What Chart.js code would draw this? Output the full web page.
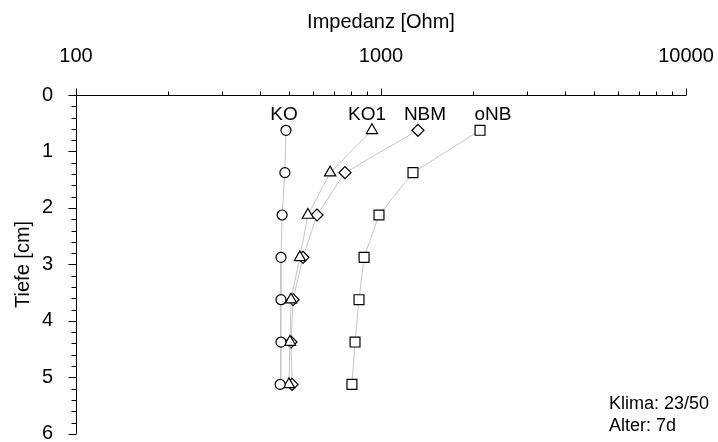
<!DOCTYPE html>
<html>
<head>
<meta charset="utf-8">
<script src="https://cdn.jsdelivr.net/npm/chart.js@4"></script>
<style>
  html, body { margin: 0; padding: 0; background: #fff; }
  #wrap { width: 718px; height: 442px; }
</style>
</head>
<body>
<div id="wrap"><canvas id="impChart"></canvas></div>
<script>
// depth of each measuring point [cm]
const depths = [0.625, 1.375, 2.125, 2.875, 3.625, 4.375, 5.125];

// impedance per sample [Ohm]
const seriesNames = ['KO', 'KO1', 'NBM', 'oNB'];
const ko  = [488, 484, 474, 470, 470, 470, 467];
const ko1 = [934, 681, 576, 542, 507, 503, 499];
const nbm = [1322, 762, 617, 555, 515, 507, 511];
const onb = [2112, 1273, 985, 880, 847, 822, 803];
const markers = ['circle', 'triangle', 'rectRot', 'rect'];
const markerSize = [5, 6.5, 6, 7];

// where the sample names sit (impedance, depth)
const nameAt = [481, 900, 1394, 2329];
const nameDepth = 0.35;

const xTickLabels = [100, 1000, 10000];
const noteLines = ['Klima: 23/50', 'Alter: 7d'];

const FONT = '"Liberation Sans", Arial, sans-serif';

const allSeries = [ko, ko1, nbm, onb];
const datasets = allSeries.map((vals, i) => ({
  label: seriesNames[i],
  data: vals.map((v, j) => ({ x: v, y: depths[j] })),
  showLine: true,
  borderColor: '#c4c4c4',
  borderWidth: 1,
  pointStyle: markers[i],
  pointRadius: markerSize[i],
  pointBorderColor: '#000',
  pointBackgroundColor: '#fff',
  pointBorderWidth: 1.2,
  tension: 0
}));

// axis lines, tick marks, sample names and the notes box
const decorations = {
  id: 'decorations',
  afterDraw(chart) {
    const { ctx, chartArea, scales } = chart;
    const xs = scales.x, ys = scales.y;
    ctx.save();
    ctx.strokeStyle = '#000';
    ctx.lineWidth = 1;
    ctx.beginPath();
    const top = Math.round(chartArea.top) + 0.5;
    const left = Math.round(chartArea.left) + 0.5;
    ctx.moveTo(left, top);
    ctx.lineTo(chartArea.right, top);
    ctx.moveTo(left, top);
    ctx.lineTo(left, chartArea.bottom);
    // log ticks on the top axis
    for (let d = 100; d <= 10000; d *= 10) {
      for (let k = 1; k <= 9; k++) {
        const v = d * k;
        if (v > 10000) break;
        const px = Math.round(xs.getPixelForValue(v)) + 0.5;
        const len = k === 1 ? 7 : 4;
        ctx.moveTo(px, top);
        ctx.lineTo(px, top - len);
      }
    }
    // depth ticks every 0.2 cm
    for (let i = 0; i <= 30; i++) {
      const v = i / 5;
      const py = Math.round(ys.getPixelForValue(v)) + 0.5;
      const len = i % 5 === 0 ? 8 : 5;
      ctx.moveTo(left, py);
      ctx.lineTo(left - len, py);
    }
    ctx.stroke();

    ctx.fillStyle = '#000';
    ctx.font = '19px ' + FONT;
    ctx.textAlign = 'center';
    ctx.textBaseline = 'middle';
    seriesNames.forEach((name, i) => {
      ctx.fillText(name, xs.getPixelForValue(nameAt[i]), ys.getPixelForValue(nameDepth));
    });

    ctx.font = '18px ' + FONT;
    ctx.textAlign = 'left';
    ctx.textBaseline = 'alphabetic';
    noteLines.forEach((t, i) => {
      ctx.fillText(t, 609, 409 + i * 22);
    });
    ctx.restore();
  }
};

new Chart(document.getElementById('impChart'), {
  type: 'scatter',
  data: { datasets },
  options: {
    responsive: true,
    maintainAspectRatio: false,
    animation: false,
    layout: { padding: { left: 0, right: 32, top: 0, bottom: 8 } },
    plugins: {
      legend: { display: false },
      tooltip: { enabled: false }
    },
    scales: {
      x: {
        type: 'logarithmic',
        position: 'top',
        min: 100,
        max: 10000,
        grid: { display: false, drawTicks: false },
        border: { display: false },
        ticks: {
          autoSkip: false,
          maxRotation: 0,
          padding: 27,
          color: '#000',
          font: { family: FONT, size: 20 },
          callback: v => xTickLabels.includes(v) ? String(v) : ''
        },
        title: {
          display: true,
          text: 'Impedanz [Ohm]',
          color: '#000',
          font: { family: FONT, size: 20 },
          padding: { top: 10, bottom: 0 }
        },
        afterFit(scale) {
          scale.height = 95;
          scale.paddingLeft = 0;
          scale.paddingRight = 0;
        }
      },
      y: {
        type: 'linear',
        position: 'left',
        reverse: true,
        min: 0,
        max: 6,
        grid: { display: false, drawTicks: false },
        border: { display: false },
        ticks: {
          stepSize: 1,
          padding: 23,
          color: '#000',
          font: { family: FONT, size: 20 }
        },
        title: {
          display: true,
          text: 'Tiefe [cm]',
          color: '#000',
          font: { family: FONT, size: 20 },
          padding: { top: 11, bottom: 0 }
        },
        afterFit(scale) {
          scale.width = 76;
          scale.paddingTop = 0;
          scale.paddingBottom = 0;
        }
      }
    }
  },
  plugins: [decorations]
});
</script>
</body>
</html>
